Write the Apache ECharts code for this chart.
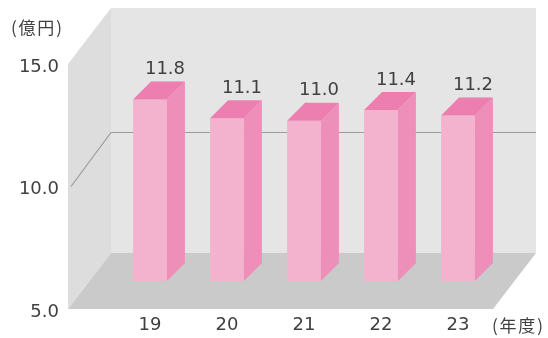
<!DOCTYPE html>
<html>
<head>
<meta charset="utf-8">
<script src="https://cdn.jsdelivr.net/npm/echarts@6/dist/echarts.min.js"></script>
<style>
  html, body { margin: 0; padding: 0; background: #ffffff; }
  #chart { width: 548px; height: 338px; }
</style>
</head>
<body>
<div id="chart"></div>
<script>
// Fiscal-year sales (100 million yen)
const fiscalYears = ['19', '20', '21', '22', '23'];
const salesValues = [11.8, 11.1, 11.0, 11.4, 11.2];
const axisMin = 5;
const axisMax = 15;
const axisStep = 5;
const innerGridValues = [10];
const valueUnit = '(億円)';
const categoryUnit = '(年度)';

const NUM_FONT = '"DejaVu Sans", sans-serif';
const CJK_FONT = '"Noto Sans CJK JP", sans-serif';
const TEXT_COLOR = '#404040';
const BOX_DEPTH = [43, -56];   // oblique offset from front plane to back wall
const BAR_DEPTH = 18;          // bar thickness drawn at 45 degrees
const BAR_RATIO = 0.44;

const chart = echarts.init(document.getElementById('chart'), null, { renderer: 'canvas' });

// Lays out a short string one glyph at a time with extra tracking
const measureCtx = document.createElement('canvas').getContext('2d');
function trackedText(str, left, centerY, font, tracking) {
  measureCtx.font = font;
  const children = [];
  let x = left;
  Array.from(str).forEach(function (ch) {
    children.push({ type: 'text', x: x, y: centerY,
      style: { text: ch, font: font, fill: TEXT_COLOR, verticalAlign: 'middle' } });
    x += measureCtx.measureText(ch).width + tracking;
  });
  return { type: 'group', children: children, silent: true };
}

// Back wall, left wall, floor and horizontal guide lines of the 3D box
function renderBox(params, api) {
  const dx = BOX_DEPTH[0], dy = BOX_DEPTH[1];
  const fl = api.coord([0, axisMin]);
  const fr = api.coord([1, axisMin]);
  const tl = api.coord([0, axisMax]);
  const children = [
    { type: 'polygon', shape: { points: [
        [tl[0] + dx, tl[1] + dy], [fr[0] + dx, tl[1] + dy],
        [fr[0] + dx, fl[1] + dy], [fl[0] + dx, fl[1] + dy]] },
      style: { fill: '#e5e5e5' } },
    { type: 'polygon', shape: { points: [
        tl, [tl[0] + dx, tl[1] + dy], [fl[0] + dx, fl[1] + dy], fl] },
      style: { fill: '#dcdddc' } },
    { type: 'polygon', shape: { points: [
        fl, [fl[0] + dx, fl[1] + dy], [fr[0] + dx, fr[1] + dy], fr] },
      style: { fill: '#c9cac9' } }
  ];
  innerGridValues.forEach(function (v) {
    const p = api.coord([0, v]);
    children.push({
      type: 'polyline',
      shape: { points: [[p[0] + 3, p[1]], [p[0] + dx, p[1] + dy + 2], [fr[0] + dx, p[1] + dy + 2]] },
      style: { stroke: '#9c9c9c', lineWidth: 1.2, fill: null }
    });
  });
  return { type: 'group', children: children };
}

// Pseudo-3D bar: front face, right side, top face and value label
function renderBar(params, api) {
  const idx = api.value(0);
  const val = api.value(1);
  const base = api.coord([idx, axisMin]);
  const top = api.coord([idx, val]);
  const w = api.size([1, 0])[0] * BAR_RATIO;
  const x0 = base[0] - w / 2;
  const x1 = base[0] + w / 2;
  const d = BAR_DEPTH;
  return {
    type: 'group',
    children: [
      { type: 'rect', shape: { x: x0, y: top[1], width: w, height: base[1] - top[1] },
        style: { fill: '#f3b3cf' } },
      { type: 'polygon', shape: { points: [
          [x1, top[1]], [x1 + d, top[1] - d], [x1 + d, base[1] - d], [x1, base[1]]] },
        style: { fill: '#ee8fba' } },
      { type: 'polygon', shape: { points: [
          [x0, top[1]], [x0 + d, top[1] - d], [x1 + d, top[1] - d], [x1, top[1]]] },
        style: { fill: '#ec7fb0' } },
      { type: 'text', x: base[0] + 15, y: top[1] - d - 12,
        style: { text: val.toFixed(1), font: '18px ' + NUM_FONT, fill: TEXT_COLOR,
                 align: 'center', verticalAlign: 'middle' } }
    ]
  };
}

const option = {
  backgroundColor: '#ffffff',
  animation: false,
  grid: [
    // plane through the bars
    { left: 111.5, width: 385, top: 14, height: 267 },
    // front plane of the box (carries the value scale)
    { left: 68, width: 425, top: 64, height: 245 }
  ],
  xAxis: [
    { gridIndex: 0, type: 'category', data: fiscalYears, boundaryGap: true,
      axisLine: { show: false }, axisTick: { show: false },
      axisLabel: { margin: 35, fontSize: 18, fontFamily: NUM_FONT, color: TEXT_COLOR } },
    { gridIndex: 1, type: 'value', min: 0, max: 1, show: false }
  ],
  yAxis: [
    { gridIndex: 0, type: 'value', min: axisMin, max: axisMax, show: false },
    { gridIndex: 1, type: 'value', min: axisMin, max: axisMax, interval: axisStep,
      axisLine: { show: false }, axisTick: { show: false }, splitLine: { show: false },
      axisLabel: { margin: 9, fontSize: 18, fontFamily: NUM_FONT, color: TEXT_COLOR,
                   verticalAlign: 'top', lineHeight: 6,
                   formatter: function (v) { return v.toFixed(1); } } }
  ],
  graphic: [
    trackedText(valueUnit, 11, 28, '17px ' + CJK_FONT, 1.8),
    trackedText(categoryUnit, 492, 326, '17px ' + CJK_FONT, 1.8)
  ],
  series: [
    { type: 'custom', xAxisIndex: 1, yAxisIndex: 1, data: [[0, axisMin]],
      renderItem: renderBox, silent: true },
    { type: 'custom', xAxisIndex: 0, yAxisIndex: 0,
      data: salesValues.map(function (v, i) { return [i, v]; }),
      renderItem: renderBar }
  ]
};

chart.setOption(option);
</script>
</body>
</html>
